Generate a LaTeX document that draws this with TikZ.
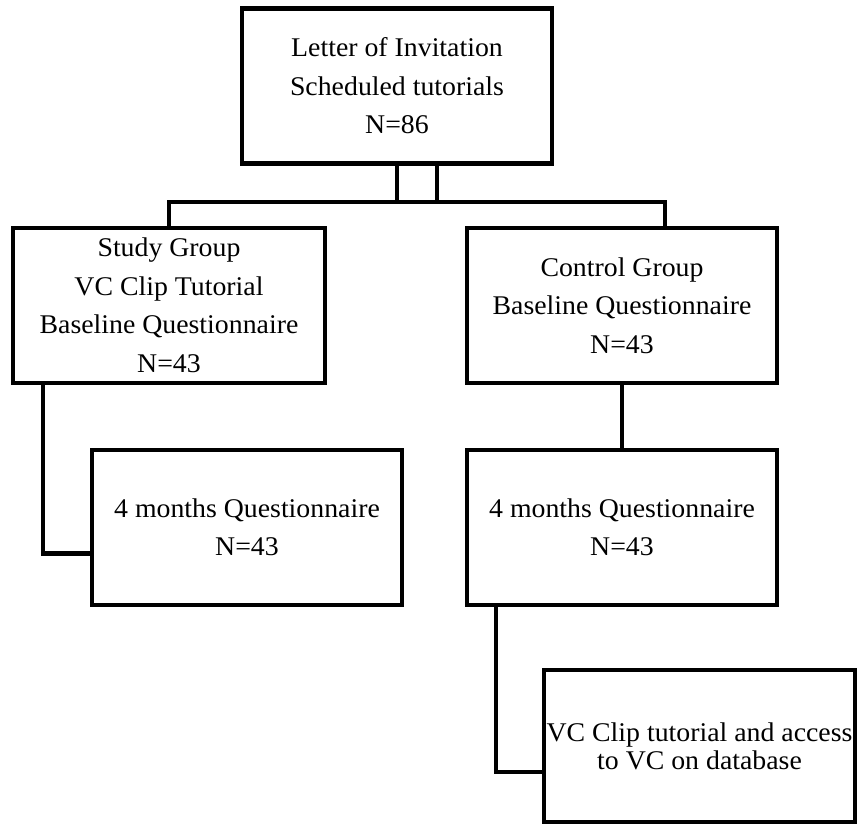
\documentclass[tikz,border=0pt]{standalone}
\usepackage{fontspec}
\setmainfont{Liberation Serif}[FakeStretch=1.03]
\usetikzlibrary{positioning,calc}

\begin{document}
\begin{tikzpicture}[
    x=1pt, y=-1pt,
    stage/.style={rectangle, draw, line width=4.5pt, inner sep=0pt, align=center, minimum width=310pt, minimum height=155pt, font=\fontsize{27}{38.5}\selectfont},
    link/.style={line width=4.5pt}
]
    \useasboundingbox (0,0) rectangle (859,825);

    % Boxes
    \node[stage] (inv) at (397,86) {Letter of Invitation\\Scheduled tutorials\\N=86};
    \node[stage, minimum width=312pt] (study) at (169,305.5) {Study Group\\VC Clip Tutorial\\Baseline Questionnaire\\N=43};
    \node[stage] (control) at (622,305.5) {Control Group\\Baseline Questionnaire\\N=43};
    \node[stage] (studyq) at (247,527.5) {4 months Questionnaire\\N=43};
    \node[stage] (controlq) at (622,527.5) {4 months Questionnaire\\N=43};
    \node[stage, minimum width=311pt, minimum height=152pt, font=\fontsize{27}{28}\selectfont] (access) at (699.5,746) {VC Clip tutorial and access\\to VC on database};

    % Lines
    \coordinate (busL) at (study.north |- 0,202);
    \coordinate (busR) at (665,202);
    \draw[link] (inv.south) -- (inv.south |- busL);
    \draw[link] ([xshift=40pt]inv.south) -- ([xshift=40pt]inv.south |- busL);
    \draw[link] (study.north) -- (busL) -- (busR) -- (busR |- control.north);
    \draw[link] ([xshift=32pt]study.south west) |- ([yshift=-26pt]studyq.west);
    \draw[link] (control.south) -- (controlq.north);
    \draw[link] ([xshift=31pt]controlq.south west) |- ([yshift=-26pt]access.west);

\end{tikzpicture}
\end{document}
